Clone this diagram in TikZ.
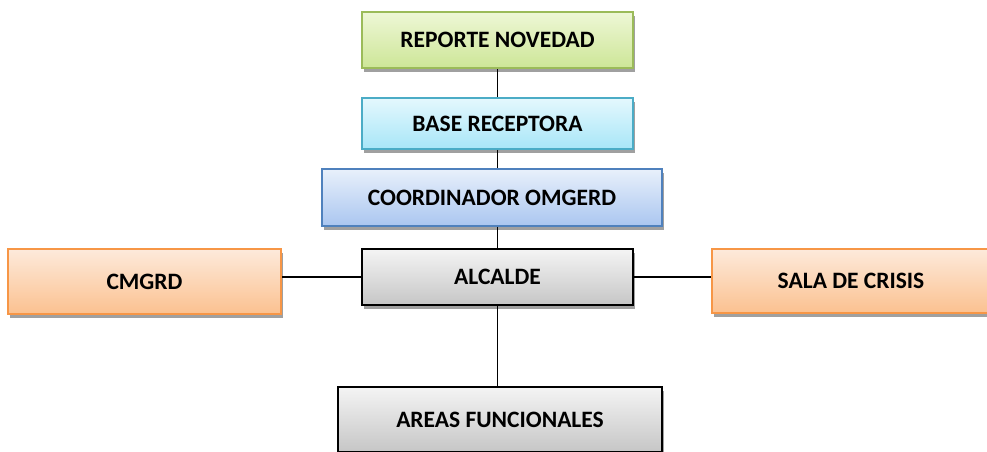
\documentclass[tikz,border=0pt]{standalone}
\usepackage{fontspec}
\setmainfont{Carlito}
\usetikzlibrary{shadows}
\definecolor{grnT}{HTML}{EEF7D6}
\definecolor{grnB}{HTML}{CDE697}
\definecolor{grnD}{HTML}{9BBB59}
\definecolor{bluT}{HTML}{E4F8FD}
\definecolor{bluB}{HTML}{A8E6F8}
\definecolor{bluD}{HTML}{4BACC6}
\definecolor{cooT}{HTML}{E8F0FB}
\definecolor{cooB}{HTML}{AAC6F0}
\definecolor{cooD}{HTML}{4F81BD}
\definecolor{gryT}{HTML}{F4F4F4}
\definecolor{gryB}{HTML}{C6C6C6}
\definecolor{orT}{HTML}{FDEADB}
\definecolor{orB}{HTML}{FBC190}
\definecolor{orD}{HTML}{F79646}
\definecolor{shd}{HTML}{A0A0A0}
\tikzset{
  box/.style={rectangle, line width=1.5pt, font=\fontsize{23.5}{26}\selectfont\bfseries,
    inner sep=0pt, text depth=0pt, shading=axis,
    drop shadow={shadow xshift=2pt, shadow yshift=-3.5pt, fill=shd, opacity=1}},
  greenbox/.style={box, draw=grnD, top color=grnT, bottom color=grnB},
  bluebox/.style={box, draw=bluD, top color=bluT, bottom color=bluB},
  coordbox/.style={box, draw=cooD, top color=cooT, bottom color=cooB},
  graybox/.style={box, draw=black, top color=gryT, bottom color=gryB},
  orangebox/.style={box, draw=orD, top color=orT, bottom color=orB},
  link/.style={line width=1.6pt, draw=black}
}
\begin{document}
\begin{tikzpicture}[x=1pt,y=-1pt]
\useasboundingbox (0,0) rectangle (987,451);
\node[greenbox, minimum width=271pt, minimum height=56pt] (rep) at (497.5,40) {REPORTE NOVEDAD};
\node[bluebox, minimum width=271pt, minimum height=51pt] (base) at (497.5,123.5) {BASE RECEPTORA};
\node[coordbox, minimum width=340pt, minimum height=57pt] (coord) at (492,197.5) {COORDINADOR OMGERD};
\node[graybox, minimum width=271pt, minimum height=56pt] (alc) at (497.5,277) {ALCALDE};
\node[orangebox, minimum width=273pt, minimum height=65pt] (cm) at (144.5,281.5) {CMGRD};
\node[orangebox, minimum width=278pt, minimum height=64pt] (sala) at (851,281) {SALA DE CRISIS};
\node[graybox, minimum width=324pt, minimum height=65pt] (areas) at (500,419.5) {AREAS FUNCIONALES};
\draw[link] (rep.south) -- (base.north);
\draw[link] (base.south) -- (base.south |- coord.north);
\draw[link] (base.south |- coord.south) -- (alc.north);
\draw[link] (alc.south) -- (alc.south |- areas.north);
\draw[link] (alc.west) -- (alc.west -| cm.east);
\draw[link] (alc.east) -- (alc.east -| sala.west);
\end{tikzpicture}
\end{document}
